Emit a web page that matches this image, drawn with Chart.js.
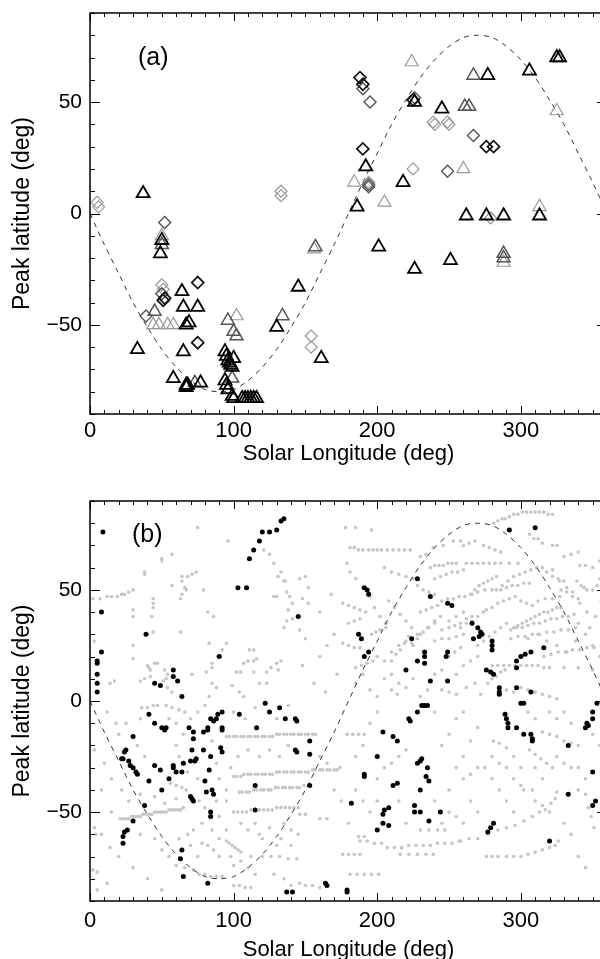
<!DOCTYPE html>
<html>
<head>
<meta charset="utf-8">
<script src="https://cdn.jsdelivr.net/npm/chart.js@4/dist/chart.umd.min.js"></script>
<style>
  body { margin: 0; background: #fff; overflow: hidden; width: 600px; height: 959px; position: relative; }
  canvas { position: absolute; left: 0; }
</style>
</head>
<body>
<canvas id="chartA" width="620" height="480" style="top:0"></canvas>
<canvas id="chartB" width="620" height="490" style="top:480px"></canvas>
<script>
// axis ticks
const lonLabels = [0, 100, 200, 300];
const latLabels = [-50, 0, 50];

// dashed reference curve, read every 10 deg of longitude
const curveLon = [0,10,20,30,40,50,60,70,80,90,100,110,120,130,140,150,160,170,180,190,200,210,220,230,240,250,260,270,280,290,300,310,320,330,340,350,360];
const curveLat = [0,-14,-27,-40,-51,-61,-69,-75,-79,-80,-79,-75,-69,-61,-51,-40,-27,-14,0,14,27,40,51,61,69,75,79,80,79,75,69,61,51,40,27,14,0];

// panel (a): [longitude, latitude]
const triBlack = [[37,9],[50,-12],[49,-18],[145,-33],[64,-35],[65,-42],[75,-42],[67,-50],[69,-49],[130,-51],[33,-61],[65,-62],
  [94,-62],[95,-64],[96,-66],[97,-67],[98,-68],[99,-69],[100,-65],[58,-74],[67,-77],[67,-78],[68,-77],[77,-76],[94,-75],[95,-77],
  [96,-79],[99,-82],[100,-83],[106,-83],[108,-83],[110,-83],[112,-83],[114,-83],[116,-83],
  [277,62],[306,64],[325,70],[327,70],[226,50],[245,47],[192,21],[218,14],[186,3],[262,-1],[276,-1],[288,-1],[313,-1],
  [201,-15],[226,-25],[251,-21],[161,-65]];
const triGray = [[50,-14],[45,-44],[96,-48],[100,-53],[102,-55],[267,62],[264,48],[261,48],[288,-18],[288,-20],[157,-15],[73,-76],[99,-74],[134,-46]];
const triLight = [[44,-50],[48,-50],[54,-50],[58,-50],[102,-46],[224,68],[325,46],[260,20],[184,14],[205,5],[313,3],[288,-22],[156,-16],[50,-10]];
const diaBlack = [[75,-31],[75,-58],[188,61],[190,58],[225,51],[190,29],[276,30],[281,30],[52,-38],[51,-39]];
const diaGray = [[52,-4],[190,56],[195,50],[267,35],[249,19],[39,-46],[50,-36],[194,12],[194,13],[226,52]];
const diaLight = [[5,5],[6,3],[133,10],[133,8],[239,41],[240,40],[249,41],[250,40],[225,20],[154,-55],[154,-60],[50,-32],[51,-34],[279,-2],[194,14]];

// panel (b): [longitude, latitude]
const dotsBlack = [[9,76],[8,40],[8,22],[5,18],[5,17],[5,12],[5,8],[5,4],[39,30],[103,51],[109,51],
  [111,64],[114,68],[118,72],[120,76],[125,76],[130,77],[133,81],[135,82],
  [90,20],[58,14],[58,11],[61,9],[45,8],[49,7],[64,2],[145,38],
  [292,77],[310,78],[228,55],[191,51],[193,50],[194,48],[237,47],[249,44],[252,43],
  [187,30],[189,28],[194,22],[191,20],[224,28],
  [266,35],[270,33],[272,31],[273,30],[267,28],[271,29],[280,27],[280,25],[280,23],
  [233,22],[233,20],[233,17],[228,18],[249,22],[248,20],[220,14],
  [300,20],[303,21],[307,22],[316,24],[297,18],[297,15],
  [276,14],[279,13],[281,12],[237,9],[249,9],[285,6],[285,4],[285,3],[297,6],[307,4],
  [41,-6],[45,-10],[50,-12],[53,-12],[52,-13],[30,-16],
  [24,-23],[25,-22],[23,-26],[22,-26],[27,-27],[28,-29],[30,-30],[32,-32],[33,-33],
  [41,-36],[45,-29],[49,-31],[55,-35],[58,-29],[58,-30],[60,-32],[65,-28],[64,-32],[50,-40],[38,-47],[30,-54],
  [26,-58],[24,-59],[23,-61],[23,-64],
  [69,-12],[72,-14],[72,-17],[79,-14],[82,-12],[82,-13],
  [84,-8],[86,-9],[88,-8],[89,-6],[92,-5],[92,-12],[92,-13],
  [71,-22],[79,-22],[74,-26],[73,-27],[70,-27],[83,-31],[84,-25],[91,-21],[92,-23],
  [70,-43],[72,-45],[71,-44],[80,-36],[81,-41],[85,-40],[86,-42],[84,-50],[84,-52],
  [104,-6],[116,-12],[122,-1],[125,-5],[132,-3],[136,-8],[143,-8],[144,-9],[143,-22],[144,-23],
  [115,-38],[115,-49],[63,-71],[64,-67],[65,-79],[82,-82],[137,-86],[141,-86],
  [153,-18],[153,-24],[153,-38],[204,-14],[211,-16],[214,-18],[223,-9],[222,-8],
  [228,-5],[231,-2],[233,-2],[235,-2],[200,-25],[191,-33],[191,-34],[182,-46],[211,-38],[214,-37],
  [228,-28],[230,-27],[231,-26],[235,-30],[234,-34],[236,-36],[230,-40],[226,-47],[226,-50],[230,-50],[244,-50],
  [208,-48],[205,-49],[204,-51],[208,-56],[204,-55],[200,-58],[236,-54],
  [277,-59],[279,-57],[281,-55],[320,-63],[164,-82],[165,-83],[179,-86],[179,-85],
  [289,-6],[290,-8],[291,-10],[291,-12],[297,-12],[302,-15],[307,-15],[308,-17],[308,-18],
  [333,-20],[333,-42],[300,-1],[302,-1],
  [346,-10],[345,-12],[347,-11],[350,-8],[350,-5],[353,-1],[350,-32],[350,-47],[352,-45]];

const dotsGray = [
  [2,46],[7,46],[12,47],[15,47],[19,47],[22,48],[24,48],[27,49],[30,50],[38,58],[38,57],[50,64],[50,63],[57,66],[75,78],[96,72],
  [64,56],[64,54],[66,51],[67,50],[64,48],[63,46],[68,56],[71,57],[74,58],[79,50],[57,52],
  [44,46],[44,44],[44,42],[43,38],[30,41],[30,38],[44,31],[63,31],[3,27],[30,25],[30,19],
  [40,16],[41,15],[42,14],[45,17],[47,17],[52,14],[54,12],[53,10],[51,9],[54,6],[57,4],
  [71,12],[83,26],[81,13],[95,26],[92,23],[89,20],[85,17],[85,15],[102,13],[105,13],
  [107,17],[110,18],[114,18],[116,19],[111,23],[114,23],[114,13],[123,13],[126,15],[130,17],[133,18],[131,14],
  [135,33],[137,36],[141,37],[138,41],[141,44],[139,47],[137,49],[128,47],[130,47],[131,56],[136,54],
  [121,68],[125,66],[128,62],[133,58],[135,54],[85,8],[88,6],[99,7],[104,4],[107,2],[83,2],[118,8],[123,8],
  [17,9],[14,8],[35,9],[38,10],[42,11],[82,40],[86,38],
  [289,82],[292,83],[295,84],[298,84],[301,85],[304,85],[307,85],[310,85],[313,85],[316,85],[319,84],[322,84],
  [281,80],[284,81],[287,82],[178,78],[185,78],[196,77],
  [181,69],[184,69],[187,68],[190,68],[194,68],[197,68],[200,68],[203,68],[207,68],[211,68],[215,68],[219,68],[223,68],
  [237,60],[240,61],[243,61],[246,61],[249,62],[252,62],[255,62],[262,62],[266,62],[270,62],[274,62],[278,62],[282,62],[286,62],[292,62],[298,62],
  [239,69],[246,70],[253,72],[258,72],[274,70],[278,69],[282,68],[286,67],
  [306,75],[309,73],[312,73],[315,71],[322,70],[325,70],[341,61],[345,61],
  [322,59],[327,54],[332,51],[336,49],[341,44],[346,40],[348,33],[339,54],[342,52],[344,51],[346,50],
  [318,58],[322,56],[326,55],[330,54],
  [295,33],[298,34],[301,35],[304,36],[307,37],[310,38],[313,39],[316,40],[319,40],[322,41],[325,42],[328,42],
  [276,41],[280,42],[284,44],[288,45],[292,46],[296,47],[286,50],[290,51],[294,52],[298,52],[302,53],[306,53],
  [312,45],[317,46],[322,46],[327,47],[258,33],[262,35],[266,36],[270,38],[274,40],
  [240,27],[245,28],[250,28],[255,29],[260,30],
  [179,62],[181,58],[185,55],[190,51],[195,47],[198,42],[202,38],[206,35],
  [205,60],[210,58],[215,57],[220,56],[225,55],[228,52],[232,50],[236,49],[240,48],
  [176,26],[180,25],[184,24],[188,24],
  [150,56],[146,55],[152,51],[148,46],[152,44],[146,32],[150,28],[148,16],[160,20],[165,25],[170,30],[160,40],[168,48],[172,12],[156,8],[164,4],
  [280,16],[284,16],[288,16],[292,16],[296,16],[300,16],[304,16],[308,16],[312,16],[316,15],[320,15],[330,15],[340,15],[350,14],
  [290,5],[295,4],[300,6],[305,5],[310,4],[315,3],[320,2],[325,1],
  [200,20],[205,18],[210,22],[215,25],[220,27],[225,25],[230,30],[235,33],[240,35],[245,32],[250,36],[255,38],[260,40],
  [205,10],[210,12],[215,8],[220,6],[225,10],[240,12],[245,14],[255,12],[260,16],[265,18],[270,20],[262,6],[268,8],[272,3],
  [195,5],[200,2],[185,8],[190,12],[266,48],[270,49],[275,50],[280,50],
  [340,35],[345,30],[350,25],[355,20],[352,38],[356,45],[305,28],[312,30],[318,27],[325,25],[332,22],[338,27],
  [176,44],[180,43],[184,42],[188,41],[192,40],[208,45],[212,42],[216,39],[220,36],[224,33],[228,30],
  [210,18],[213,21],[216,23],[219,26],[222,29],[224,26],[228,28],[232,31],[236,33],[240,36],[244,38],
  [250,33],[254,34],[258,35],[262,37],[266,38],[265,48],[268,50],[271,52],[274,53],[277,54],[280,55],[283,56],
  [283,50],[287,52],[291,54],[295,56],[299,57],[303,58],[307,59],[311,60],[315,60],
  [293,32],[297,33],[301,33],[305,34],[309,35],[313,35],[317,36],[321,37],[325,37],[329,38],[333,38],[337,39],
  [293,28],[298,29],[303,29],[308,30],[313,30],[318,31],[323,31],[328,32],[333,32],[338,33],
  [316,20],[321,21],[326,22],[331,22],[336,23],[341,23],[346,24],[351,24],[356,25],
  [277,8],[280,10],[283,11],[286,13],[289,14],[240,55],[244,56],[248,57],[252,58],[256,58],[260,59],
  [245,45],[249,46],[253,46],[257,47],[261,47],[230,40],[234,41],[238,42],[242,43],
  [196,30],[199,31],[202,32],[206,33],[185,15],[189,16],[193,17],[197,18],[180,35],[184,36],[188,37],
  [300,45],[304,44],[308,43],[328,50],[332,49],[336,47],[340,46],[350,50],[353,52],[355,55],[350,60],[355,63],
  [330,65],[335,66],[340,67],[260,70],[264,71],[268,72],[230,65],[234,66],
  [245,5],[250,4],[255,3],[230,2],[235,5],[270,25],[274,27],[278,29],[282,31],[286,33],[290,35],
  [250,20],[254,22],[258,24],[210,5],[214,3],
  [47,-2],[44,-2],[40,-3],[36,-3],[53,-2],[57,-3],[62,-4],[66,-5],
  [95,-16],[100,-16],[105,-16],[110,-16],[115,-16],[120,-16],[125,-16],[130,-15],[135,-15],[140,-15],[145,-15],[150,-15],[155,-15],
  [97,-16],[102,-16],[107,-16],[112,-16],[117,-16],[122,-16],[127,-16],[132,-15],[137,-15],[142,-15],[147,-15],[152,-15],[157,-15],
  [100,-34],[105,-34],[110,-33],[115,-33],[120,-33],[125,-33],[130,-32],[135,-32],[140,-32],[145,-32],[150,-32],[155,-31],[160,-31],[165,-31],[170,-31],[174,-30],
  [102,-34],[107,-33],[112,-33],[117,-33],[122,-33],[127,-33],[132,-32],[137,-32],[142,-32],[147,-32],[152,-32],[157,-31],[162,-31],[167,-31],[172,-31],
  [104,-41],[109,-41],[114,-40],[119,-40],[124,-40],[129,-39],[134,-39],[139,-39],[144,-39],[149,-38],
  [106,-41],[111,-41],[116,-40],[121,-40],[126,-40],[131,-39],[136,-39],[141,-39],[146,-39],
  [21,-53],[25,-53],[29,-52],[33,-52],[37,-51],[41,-51],[45,-50],[49,-50],[53,-50],[57,-49],[61,-49],[65,-48],
  [23,-53],[27,-53],[31,-52],[35,-52],[39,-51],[43,-51],[47,-50],[51,-50],[55,-49],[59,-49],[63,-49],
  [3,-57],[4,-60],[2,-76],[5,-77],[8,-40],[3,-22],
  [60,-74],[66,-75],[72,-76],[76,-78],[80,-78],[84,-79],[88,-79],[92,-79],
  [95,-63],[97,-64],[99,-65],[101,-66],[103,-67],[105,-68],[100,-83],[104,-83],[108,-84],[112,-84],[78,-64],[82,-65],[86,-67],
  [100,-50],[106,-50],[112,-49],[118,-49],[124,-49],[130,-48],[136,-48],[142,-48],
  [103,-50],[109,-50],[115,-49],[121,-49],[127,-49],[133,-48],[139,-48],[145,-48],
  [120,-70],[126,-70],[132,-70],[138,-71],[144,-71],[56,-37],[60,-38],[64,-39],[67,-40],
  [12,-5],[18,-10],[10,-28],[15,-35],[8,-60],[14,-66],[20,-70],[30,-75],[40,-80],[50,-85],[5,-85],[12,-82],[72,-58],[78,-55],
  [90,-52],[95,-58],[110,-58],[118,-60],[125,-57],[133,-62],[140,-65],[128,-78],[135,-80],[140,-83],[70,-65],[75,-70],[90,-70],
  [100,-74],[110,-75],[115,-78],[103,-25],[110,-22],[118,-25],[125,-22],[132,-25],[138,-20],[100,-5],[108,-8],[115,-3],[130,-8],
  [138,-2],[22,-40],[27,-45],[35,-42],[45,-43],[52,-46],[60,-44],[75,-35],[95,-40],[98,-30],[33,-20],[38,-25],[60,-20],[65,-15],
  [75,-5],[80,-2],[15,-50],[35,-60],[45,-62],[50,-67],[55,-70],[62,-62],[68,-60],
  [20,-15],[25,-10],[35,-8],[55,-8],[60,-10],[70,-8],[85,-18],[88,-28],[90,-35],[62,-25],[68,-32],[76,-45],[80,-48],[88,-45],
  [95,-45],[105,-55],[115,-55],[120,-62],[130,-65],[135,-55],[140,-58],[145,-60],[98,-70],[105,-72],[112,-70],[85,-58],[90,-62],
  [179,-15],[183,-15],[187,-15],[191,-15],[146,-51],[150,-51],[160,-53],[165,-53],[187,-61],[191,-61],
  [176,-69],[180,-69],[184,-69],[188,-69],[181,-78],[186,-78],[191,-78],[196,-78],[201,-78],
  [188,-63],[193,-63],[198,-64],[203,-64],[146,-82],[150,-83],[155,-83],[160,-84],
  [207,-66],[212,-66],[217,-66],[222,-65],[227,-65],[232,-65],[237,-65],[242,-64],[247,-64],[252,-64],[257,-63],
  [216,-69],[222,-69],[228,-69],[234,-69],[239,-69],
  [276,-70],[280,-70],[284,-70],[290,-70],[295,-70],[300,-70],[305,-69],[310,-68],[315,-67],[320,-66],[324,-65],[326,-63],
  [270,-62],[277,-60],[284,-58],[290,-57],[296,-56],[302,-54],[308,-52],[313,-50],[317,-49],[321,-46],[324,-44],[325,-41],
  [258,-63],[264,-62],[230,-58],[236,-58],[242,-58],[247,-58],[281,-18],[285,-19],[290,-21],
  [306,-22],[310,-24],[314,-26],[318,-28],[322,-30],[302,-40],[308,-40],[310,-45],[315,-47],[320,-50],
  [315,-14],[320,-15],[325,-16],[330,-18],[335,-19],[340,-20],[347,-48],[349,-52],[351,-57],
  [160,-25],[165,-28],[170,-40],[175,-45],[180,-55],[195,-50],[200,-45],[215,-45],[220,-55],[240,-45],[250,-40],[255,-30],
  [260,-25],[265,-18],[270,-12],[245,-20],[250,-15],[255,-8],[260,-5],[240,-5],[275,-30],[280,-35],[285,-40],[290,-45],
  [295,-50],[265,-45],[270,-50],[260,-55],[330,-5],[335,-10],[340,-30],[345,-35],[330,-55],[335,-60],[340,-70],[345,-75],
  [300,-30],[295,-25],[290,-30],
  [205,-30],[210,-28],[215,-25],[220,-22],[200,-35],[185,-25],[190,-20],[195,-10],[200,-5],[185,-40],[190,-45],[250,-50],
  [255,-52],[245,-55],[260,-35],[265,-33],[270,-30],[280,-25],[285,-28],[295,-35],[300,-38],[310,-30],[315,-35],[325,-25],
  [330,-28],[335,-30],[340,-40],[345,-42],[350,-15],[355,-20],[320,-5],[325,-8],[310,-8],[305,-5]
];

Chart.defaults.font.family = '"Liberation Sans", Arial, Helvetica, sans-serif';
Chart.defaults.color = '#000';

const toXY = pts => pts.map(p => ({ x: p[0], y: p[1] }));
const curve = curveLon.map((lon, i) => ({ x: lon, y: curveLat[i] }));

// box, inward ticks and the panel letter
const framePlugin = {
  id: 'frame',
  afterDatasetsDraw(chart, args, opts) {
    const { ctx, chartArea: a, scales: { x, y } } = chart;
    ctx.save();
    ctx.strokeStyle = '#000';
    ctx.lineWidth = 1.5;
    ctx.strokeRect(a.left, a.top, a.right - a.left, a.bottom - a.top);
    ctx.lineWidth = 1;
    ctx.beginPath();
    for (let v = 0; v <= 360; v += 10) {
      const px = Math.round(x.getPixelForValue(v)) + 0.5;
      const len = lonLabels.includes(v) ? 8 : 4;
      ctx.moveTo(px, a.bottom); ctx.lineTo(px, a.bottom - len);
      ctx.moveTo(px, a.top); ctx.lineTo(px, a.top + len);
    }
    for (let v = -90; v <= 90; v += 10) {
      const py = Math.round(y.getPixelForValue(v)) + 0.5;
      const len = latLabels.includes(v) ? 10 : 5;
      ctx.moveTo(a.left, py); ctx.lineTo(a.left + len, py);
      ctx.moveTo(a.right, py); ctx.lineTo(a.right - len, py);
    }
    ctx.stroke();
    ctx.fillStyle = '#000';
    ctx.font = '25px "Liberation Sans", Arial, sans-serif';
    ctx.textBaseline = 'middle';
    ctx.fillText(opts.label, a.left + opts.dx, a.top + opts.dy);
    ctx.restore();
  }
};

function makeOptions(cfg) {
  return {
    responsive: false,
    animation: false,
    events: [],
    layout: { padding: { left: 0, top: cfg.top, right: 13, bottom: 0 } },
    plugins: {
      legend: { display: false },
      tooltip: { enabled: false },
      frame: { label: cfg.label, dx: cfg.dx, dy: cfg.dy }
    },
    scales: {
      x: {
        type: 'linear', min: 0, max: 360,
        grid: { display: false, drawTicks: false },
        border: { display: false },
        ticks: { stepSize: 100, includeBounds: false, padding: cfg.tickPad, font: { size: 22 }, color: '#000' },
        title: { display: true, text: 'Solar Longitude (deg)', font: { size: 22 }, color: '#000', padding: { top: 0, bottom: cfg.titlePad } },
        afterFit: s => { s.height = cfg.xHeight; s.paddingLeft = 0; s.paddingRight = 0; }
      },
      y: {
        type: 'linear', min: -90, max: 90,
        grid: { display: false, drawTicks: false },
        border: { display: false },
        ticks: {
          stepSize: 50, includeBounds: false, padding: 8, font: { size: 21 }, color: '#000',
          callback: v => String(v).replace('-', '\u2212')
        },
        title: { display: true, text: 'Peak latitude (deg)', font: { size: 23 }, color: '#000', padding: { top: 9, bottom: 0 } },
        afterFit: s => { s.width = 90; s.paddingTop = 0; s.paddingBottom = 0; }
      }
    }
  };
}

const curveDataset = {
  data: curve, showLine: true, pointRadius: 0, borderColor: '#333', borderWidth: 1,
  borderDash: [5, 5], tension: 0.3, order: 5
};

function markers(pts, style, color, radius, width, order) {
  return {
    data: toXY(pts), pointStyle: style, pointRadius: radius, borderColor: color,
    backgroundColor: 'rgba(0,0,0,0)', pointBorderWidth: width, borderWidth: width, clip: false, order: order
  };
}

new Chart(document.getElementById('chartA'), {
  type: 'scatter',
  data: {
    datasets: [
      curveDataset,
      markers(diaLight, 'rectRot', '#999', 6, 1.2, 4),
      markers(triLight, 'triangle', '#999', 7.5, 1.2, 4),
      markers(diaGray, 'rectRot', '#555', 6, 1.4, 3),
      markers(triGray, 'triangle', '#555', 7.5, 1.5, 3),
      markers(diaBlack, 'rectRot', '#111', 6, 1.7, 2),
      markers(triBlack, 'triangle', '#000', 7.5, 1.8, 1)
    ]
  },
  options: makeOptions({ top: 13, label: '(a)', dx: 48, dy: 45, tickPad: 4, titlePad: 13, xHeight: 66 }),
  plugins: [framePlugin]
});

new Chart(document.getElementById('chartB'), {
  type: 'scatter',
  data: {
    datasets: [
      Object.assign({}, curveDataset, { data: curve, order: 2 }),
      { data: toXY(dotsGray), pointRadius: 1.8, borderWidth: 0, pointBorderWidth: 0, backgroundColor: '#c6c6c6', clip: false, order: 3 },
      { data: toXY(dotsBlack), pointRadius: 2.5, borderWidth: 0, pointBorderWidth: 0, backgroundColor: '#000', clip: false, order: 1 }
    ]
  },
  options: makeOptions({ top: 21, label: '(b)', dx: 42, dy: 34, tickPad: 7, titlePad: 7, xHeight: 69 }),
  plugins: [framePlugin]
});
</script>
</body>
</html>
